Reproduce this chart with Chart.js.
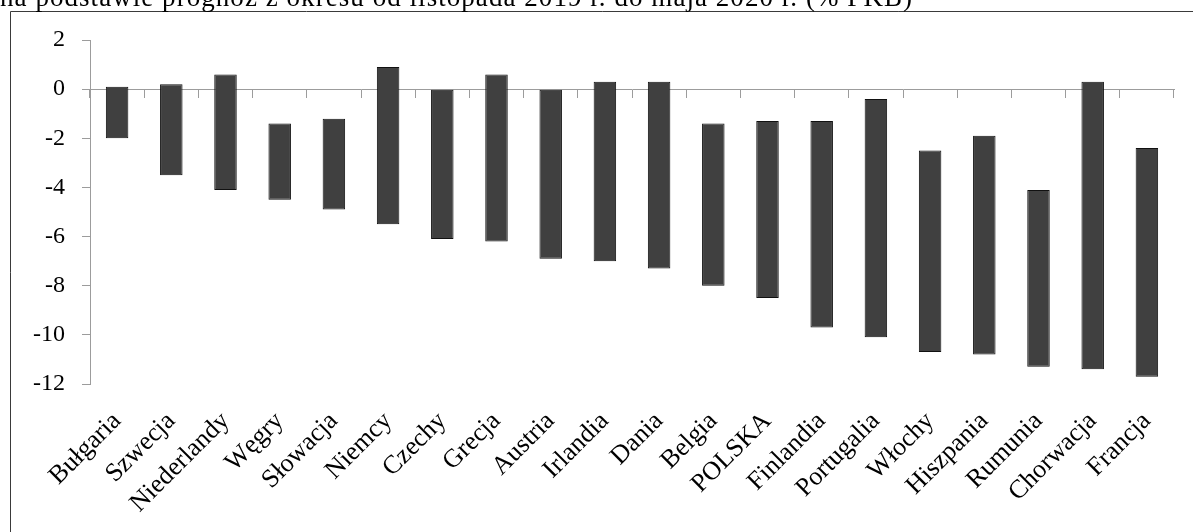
<!DOCTYPE html>
<html lang="pl">
<head>
<meta charset="utf-8">
<script src="https://cdn.jsdelivr.net/npm/chart.js@4/dist/chart.umd.min.js"></script>
<style>
  html, body { margin: 0; padding: 0; background: #fff; }
  #wrap { position: relative; width: 1193px; height: 532px; }
</style>
</head>
<body>
<div id="wrap"><canvas id="c"></canvas></div>
<script>
// Kraje i zakres prognoz salda sektora finansów publicznych (% PKB)
const categories = ['Bułgaria', 'Szwecja', 'Niederlandy', 'Węgry', 'Słowacja', 'Niemcy', 'Czechy',
  'Grecja', 'Austria', 'Irlandia', 'Dania', 'Belgia', 'POLSKA', 'Finlandia', 'Portugalia',
  'Włochy', 'Hiszpania', 'Rumunia', 'Chorwacja', 'Francja'];
const upperValues = [0.1, 0.2, 0.6, -1.4, -1.2, 0.9, 0.0, 0.6, 0.0, 0.3, 0.3, -1.4, -1.3, -1.3, -0.4,
  -2.5, -1.9, -4.1, 0.3, -2.4];
const lowerValues = [-2.0, -3.5, -4.1, -4.5, -4.9, -5.5, -6.1, -6.2, -6.9, -7.0, -7.3, -8.0, -8.5, -9.7,
  -10.1, -10.7, -10.8, -11.3, -11.4, -11.7];
const yTicks = [2, 0, -2, -4, -6, -8, -10, -12];
const titleText = 'na podstawie prognoz z okresu od listopada 2019 r. do maja 2020 r. (% PKB)';

const SERIF = '"Liberation Serif", "DejaVu Serif", serif';
const AXIS_GREY = '#9c9c9c';
const TITLE_WIDTH = 913;

// Ramka wykresu i (przycięty u góry) podtytuł
const frameAndTitle = {
  id: 'frameAndTitle',
  beforeDraw(chart) {
    const ctx = chart.ctx;
    ctx.save();
    ctx.strokeStyle = '#3a3a3a';
    ctx.lineWidth = 1;
    ctx.beginPath();
    ctx.moveTo(10.5, chart.height + 2);
    ctx.lineTo(10.5, 11.5);
    ctx.lineTo(chart.width + 2, 11.5);
    ctx.stroke();

    ctx.font = '27px ' + SERIF;
    const w = ctx.measureText(titleText).width;
    const spacing = Math.max(0, Math.min(3, (TITLE_WIDTH - w) / titleText.length));
    if ('letterSpacing' in ctx) ctx.letterSpacing = spacing.toFixed(2) + 'px';
    ctx.fillStyle = '#000';
    ctx.textBaseline = 'alphabetic';
    ctx.textAlign = 'left';
    ctx.fillText(titleText, 0, 6);
    ctx.restore();
  }
};

const ranges = categories.map((_, i) => [lowerValues[i], upperValues[i]]);

new Chart(document.getElementById('c'), {
  type: 'bar',
  data: {
    labels: categories,
    datasets: [{
      data: ranges,
      backgroundColor: '#404040',
      borderColor: '#111111',
      borderWidth: 1,
      borderSkipped: false,
      categoryPercentage: 1,
      barPercentage: 0.415,
      xAxisID: 'x',
      yAxisID: 'y'
    }]
  },
  options: {
    responsive: true,
    maintainAspectRatio: false,
    animation: false,
    events: [],
    layout: { padding: { top: 40, right: 19, left: 0, bottom: 0 } },
    plugins: {
      legend: { display: false },
      tooltip: { enabled: false },
      title: { display: false }
    },
    scales: {
      // oś kategorii przebiegająca przez zero
      x: {
        type: 'category',
        position: { y: 0 },
        offset: true,
        grid: {
          display: true,
          offset: true,
          drawOnChartArea: false,
          drawTicks: true,
          tickLength: 8,
          color: AXIS_GREY,
          lineWidth: 1
        },
        border: { display: true, color: AXIS_GREY, width: 1 },
        ticks: { display: false }
      },
      // podpisy krajów pod obszarem wykresu
      x2: {
        type: 'category',
        position: 'bottom',
        labels: categories,
        offset: true,
        grid: { display: false, drawTicks: false },
        border: { display: false },
        ticks: {
          autoSkip: false,
          minRotation: 45,
          maxRotation: 45,
          padding: 22,
          color: '#000',
          font: { family: SERIF, size: 26 }
        },
        afterFit(scale) { scale.height = 148; }
      },
      y: {
        type: 'linear',
        position: 'left',
        min: -12,
        max: 2,
        afterBuildTicks(scale) { scale.ticks = yTicks.map(v => ({ value: v })); },
        grid: {
          display: true,
          drawOnChartArea: false,
          drawTicks: true,
          tickLength: 8,
          color: AXIS_GREY,
          lineWidth: 1
        },
        border: { display: true, color: AXIS_GREY, width: 1 },
        ticks: {
          padding: 17,
          color: '#000',
          font: { family: SERIF, size: 24 },
          callback: (v) => String(v)
        },
        afterFit(scale) { scale.width = 90; }
      }
    }
  },
  plugins: [frameAndTitle]
});
</script>
</body>
</html>
